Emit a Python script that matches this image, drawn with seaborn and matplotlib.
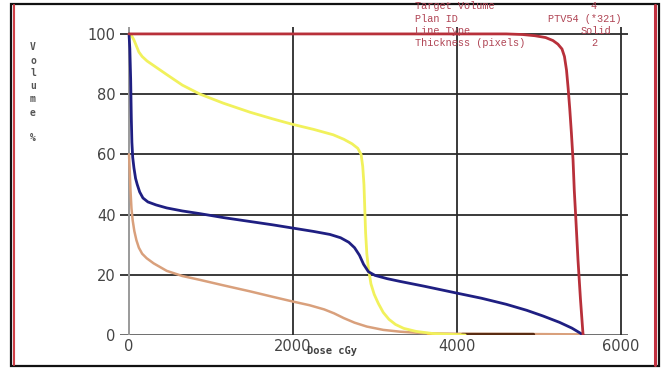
import matplotlib
matplotlib.use("Agg")
import matplotlib.pyplot as plt
import seaborn as sns
import pandas as pd
from matplotlib.patches import Rectangle
from matplotlib.lines import Line2D

# Cumulative dose-volume histogram curves (dose in cGy, volume in %)
ptv_dose = [0, 4600, 4800, 4950, 5080, 5170, 5230, 5280, 5310, 5335, 5355, 5375,
            5395, 5415, 5430, 5450, 5475, 5505, 5537]
ptv_vol = [100, 100, 99.8, 99.4, 98.8, 97.8, 96.6, 95, 92.5, 88, 82, 75,
           67, 58, 48, 38, 25, 12, 0]

yellow_dose = [0, 30, 60, 90, 120, 160, 220, 300, 460, 650, 866, 1150, 1475, 1750,
               1990, 2250, 2490, 2620, 2720, 2790, 2830, 2850, 2865, 2875, 2885,
               2900, 2920, 2950, 2990, 3040, 3100, 3170, 3250, 3350, 3500, 3700, 4100]
yellow_vol = [100, 99.5, 98, 96, 94, 92.5, 91, 89.5, 86.5, 83, 80, 77, 74, 71.8,
              70, 68.3, 66.5, 65, 63.5, 62, 60, 56, 50, 42, 34,
              27, 22, 17, 13.5, 10.5, 7.5, 5.2, 3.5, 2.2, 1.2, 0.5, 0]

blue_dose = [0, 10, 20, 28, 35, 45, 60, 80, 100, 130, 170, 230, 330, 460, 650, 866,
             1150, 1475, 1750, 2000, 2250, 2450, 2580, 2680, 2750, 2810, 2860, 2920,
             3000, 3150, 3305, 3600, 4000, 4300, 4600, 4850, 5050, 5250, 5400, 5480, 5540]
blue_vol = [100, 95, 85, 72, 64, 59, 55.5, 52, 50, 47.5, 45.5, 44.2, 43.2, 42.2, 41.2,
            40.3, 39, 37.7, 36.6, 35.5, 34.4, 33.4, 32.3, 30.8, 29, 26.5, 23.5, 21,
            19.8, 18.7, 17.8, 16.2, 13.9, 12.2, 10.2, 8.2, 6.3, 4.2, 2.3, 1, 0]

tan_dose = [0, 8, 18, 30, 45, 65, 90, 120, 160, 215, 300, 460, 650, 866, 1150, 1475,
            1750, 2000, 2200, 2380, 2500, 2620, 2750, 2900, 3100, 3305, 3600, 4000,
            5000, 5540]
tan_vol = [60, 55, 48, 42, 38, 34.5, 31.5, 29, 27, 25.5, 23.8, 21.3, 19.6, 18.3, 16.5,
           14.5, 12.7, 11.1, 9.9, 8.5, 7.2, 5.6, 4.1, 2.8, 1.7, 1.1, 0.6, 0.4, 0.3, 0.2]

orange_dose = [3650, 4100]
orange_vol = [0.4, 0.4]

brown_dose = [4060, 4930]
brown_vol = [0.3, 0.3]

x_ticks = [0, 2000, 4000, 6000]
y_ticks = [0, 20, 40, 60, 80, 100]

legend_keys = ["Target Volume", "Plan ID", "Line Type", "Thickness (pixels)"]
legend_vals = ["4", "PTV54 (*321)", "Solid", "2"]

sns.set_theme(style="white")
plt.rcParams["font.family"] = ["DejaVu Sans"]

fig = plt.figure(figsize=(6.63, 3.71), dpi=100)
W, H = 663, 371
ax = fig.add_axes([120 / W, 36 / H, 508 / W, 308 / H])
ax.set_xlim(-110, 6085)
ax.set_ylim(0, 102.3)
for s in ax.spines.values():
    s.set_visible(False)

# grid
for yv in y_ticks[1:]:
    ax.axhline(yv, color="#2b2b2b", lw=1.3, zorder=1)
ax.axhline(0, color="#6f6f6f", lw=1.4, zorder=1)
for xv in x_ticks[1:]:
    ax.axvline(xv, color="#2b2b2b", lw=1.3, zorder=1)
ax.axvline(0, color="#9a9a9a", lw=1.4, zorder=1)

series = [
    (tan_dose, tan_vol, "#d9a07c", 1.8),
    (orange_dose, orange_vol, "#e9a338", 2.2),
    (brown_dose, brown_vol, "#5a2c12", 2.4),
    (yellow_dose, yellow_vol, "#f1f15c", 2.0),
    (blue_dose, blue_vol, "#1f1f82", 2.0),
    (ptv_dose, ptv_vol, "#b8303a", 2.0),
]
for i, (xd, yd, col, lw) in enumerate(series):
    df = pd.DataFrame({"dose": xd, "vol": yd})
    sns.lineplot(data=df, x="dose", y="vol", ax=ax, color=col, lw=lw,
                 sort=False, estimator=None, zorder=3 + i)

ax.set_xticks(x_ticks)
ax.set_xticklabels([str(v) for v in x_ticks])
ax.set_yticks(y_ticks)
ax.set_yticklabels([str(v) for v in y_ticks])
ax.tick_params(axis="both", length=0, labelsize=10.5, colors="#444444")
ax.tick_params(axis="y", pad=3)
ax.tick_params(axis="x", pad=3)
ax.set_xlabel("")
ax.set_ylabel("")

# axis titles
mono = "DejaVu Sans Mono"
ylab = "Volume %"
ytxt = [47, 61, 73, 86, 99, 113, 138]
chars = [c for c in ylab if c != " "]
for c, yy in zip(chars, ytxt):
    fig.text(33 / W, 1 - yy / H, c, ha="center", va="center", fontsize=7,
             family=mono, color="#555555", fontweight="bold")
fig.text(307 / W, 1 - 351 / H, "Dose cGy", ha="left", va="center", fontsize=7.5,
         family=mono, color="#404040", fontweight="bold")

# plan info block
key_y = [6, 18.5, 31, 43.5]
val_x = [597, 621, 611, 597]
for k, v, yy, vx in zip(legend_keys, legend_vals, key_y, val_x):
    fig.text(415 / W, 1 - yy / H, k, ha="left", va="center", fontsize=7.4,
             family="Liberation Mono", color="#b04454")
    fig.text(vx / W, 1 - yy / H, v, ha="right", va="center", fontsize=7.4,
             family="Liberation Mono", color="#b04454")

# outer frame
fig.add_artist(Rectangle((11 / W, 1 - 366 / H), (659 - 11) / W, (366 - 4) / H,
                         transform=fig.transFigure, fill=False, ec="#111111", lw=1.6))
fig.add_artist(Line2D([14 / W, 14 / W], [1 - 365 / H, 1 - 5 / H],
                      transform=fig.transFigure, color="#d04048", lw=1.5))
fig.add_artist(Line2D([655 / W, 655 / W], [1 - 365 / H, 1 - 5 / H],
                      transform=fig.transFigure, color="#c03040", lw=2.2))

fig.savefig("out.png", dpi=100, facecolor="white")
